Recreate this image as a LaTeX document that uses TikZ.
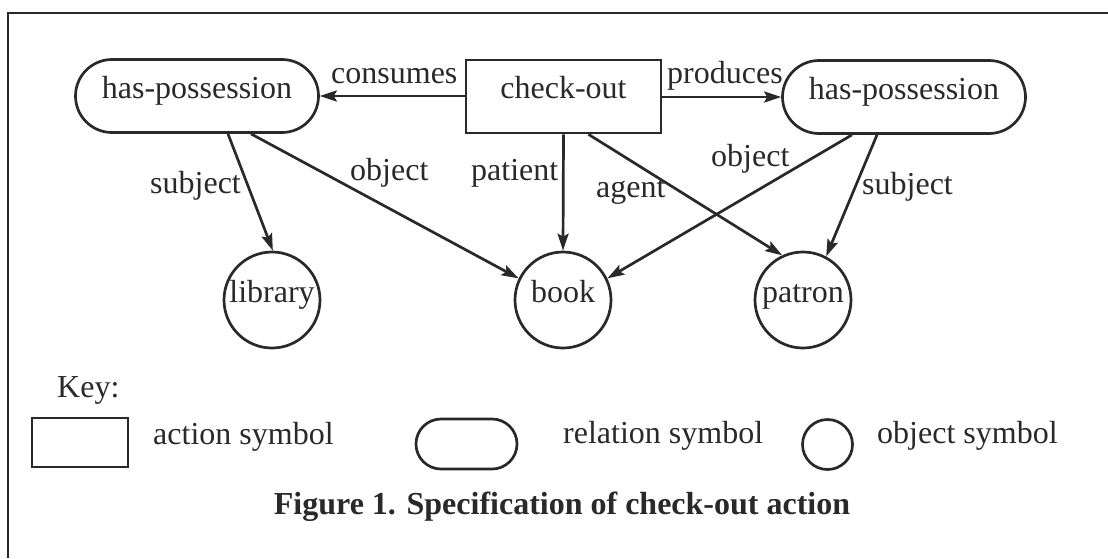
\documentclass[tikz,border=0pt]{standalone}
\usepackage{fontspec}
\setmainfont{Liberation Serif}
\usetikzlibrary{arrows.meta}
\definecolor{ink}{gray}{0.16}
\begin{document}
\begin{tikzpicture}[x=1pt,y=-1pt, color=ink,
  every node/.style={font=\fontsize{32}{38}\selectfont, text=ink},
  boxtext/.style={text height=0.7em, text depth=0.27em},
  rel/.style={draw, rectangle, rounded corners=36.5pt, minimum width=243pt,
    minimum height=73pt, inner sep=0pt, line width=2.7pt, boxtext},
  act/.style={draw, rectangle, minimum width=195pt, minimum height=73pt,
    inner sep=0pt, line width=2.7pt, boxtext},
  obj/.style={draw, circle, minimum size=96pt, inner sep=0pt, line width=2.7pt,
    boxtext},
  lbl/.style={inner sep=0pt, anchor=base west},
  link/.style={-{Stealth[length=17pt,width=11pt,inset=3pt]}, line width=2.7pt},
  frame/.style={line width=2.8pt}
]
\useasboundingbox (0,0) rectangle (1108,558);

% frame edges
\coordinate (ftl) at (8,13);
\coordinate (ftr) at (1108,13);
\coordinate (fbl) at (8,558);
\draw[frame] (ftr) -- (ftl) -- (fbl);

% action and relations
\node[act] (co) at (563.5,96.5) {check-out};
\node[rel] (lhp) at (197,96) {has-possession};
\node[rel] (rhp) at (904,97) {has-possession};

% objects
\node[obj] (lib) at (272,300) {library};
\node[obj] (book) at (563,300) {book};
\node[obj] (pat) at (803,300) {patron};

% connectors
\draw[link] (co.west |- lhp.east) -- (lhp.east);
\draw[link] (co.east |- rhp.west) -- (rhp.west);
\draw[link] ([xshift=31pt]lhp.south) -- (lib.89);
\draw[link] ([xshift=54pt]lhp.south) -- (book.154);
\draw[link] (co.south) -- (book.90);
\draw[link] ([xshift=25pt]co.south) -- (pat.115);
\draw[link] ([xshift=-52pt]rhp.south) -- (book.26);
\draw[link] ([xshift=-27pt]rhp.south) -- (pat.62);

% connector labels
\node[lbl] (tconsumes) at (331,83) {consumes};
\node[lbl] (tproduces) at (667,83) {produces};
\node[lbl] (tsubjl) at (150,193) {subject};
\node[lbl] (tobjl) at (350,180) {object};
\node[lbl] (tpatient) at (471,180) {patient};
\node[lbl] (tagent) at (596,197) {agent};
\node[lbl] (tobjr) at (711,166) {object};
\node[lbl] (tsubjr) at (862,194) {subject};

% key
\node[lbl] (key) at (57,397) {Key:};
\node[draw, rectangle, minimum width=96pt, minimum height=49pt, inner sep=0pt,
  line width=2.7pt] (kact) at (80,442.5) {};
\node[lbl] (kacttext) at (153,444) {action symbol};
\node[draw, rectangle, rounded corners=25pt, minimum width=101pt,
  minimum height=50pt, inner sep=0pt, line width=2.7pt] (krel) at (466.5,444) {};
\node[lbl] (kreltext) at (563,443) {relation symbol};
\node[draw, circle, minimum size=50pt, inner sep=0pt, line width=2.7pt]
  (kobj) at (827.5,444.5) {};
\node[lbl] (kobjtext) at (877,443) {object symbol};

% caption
\node[inner sep=0pt, anchor=base, font=\bfseries\fontsize{32}{38}\selectfont]
  (cap) at (562,514) {Figure 1. Specification of check-out action};
\end{tikzpicture}
\end{document}
